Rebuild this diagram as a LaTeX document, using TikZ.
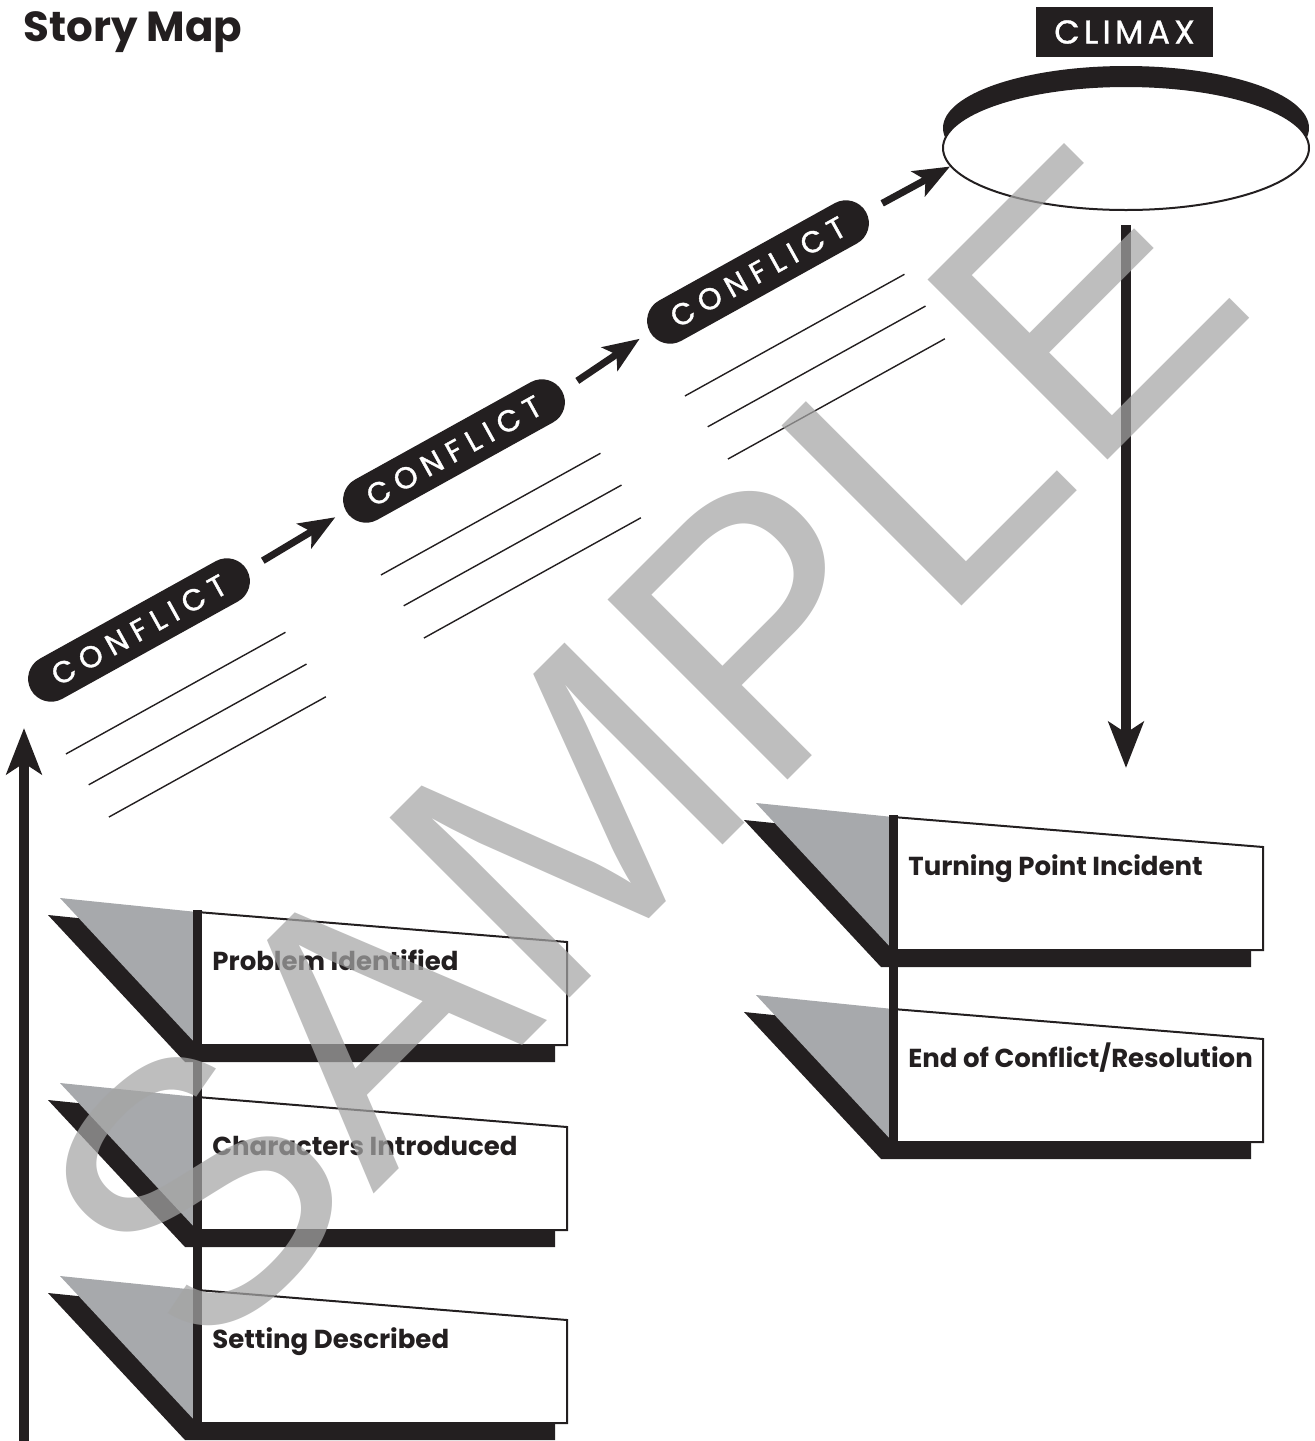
\documentclass[tikz,border=0pt]{standalone}
\usepackage{fontspec}
\setmainfont{Poppins}
\newfontfamily\markfont{Liberation Sans}
\newfontfamily\spacedfont[LetterSpace=25, FakeBold=1.2]{Poppins}
\newfontfamily\climaxfont[LetterSpace=13, FakeBold=1]{Poppins}
\usetikzlibrary{arrows.meta, shapes.geometric, shadows, calc}
\definecolor{inkblack}{RGB}{35,31,32}
\definecolor{panelgray}{RGB}{167,169,172}
\definecolor{markgray}{RGB}{165,165,165}

\tikzset{
  conflictpill/.style={fill=inkblack, text=white, rounded corners=11.5pt,
    minimum width=123.5pt, minimum height=23pt, inner sep=0pt, rotate=29,
    font=\spacedfont\fontsize{15}{15}\selectfont},
  riseline/.style={draw=inkblack, line width=3.5pt,
    -{Stealth[length=18pt, width=14pt, inset=4pt]}, shorten <=9pt, shorten >=6pt},
  bigarrow/.style={draw=inkblack, line width=5pt,
    -{Stealth[length=23pt, width=17.5pt, inset=5.5pt]}},
  writeline/.style={draw=inkblack, line width=0.7pt},
  boxbar/.style={draw=inkblack, line width=4.5pt},
  boxlabel/.style={anchor=base west, inner sep=0pt, text=inkblack,
    font=\bfseries\fontsize{13}{13}\selectfont},
}

\begin{document}
\begin{tikzpicture}[x=0.5pt, y=-0.5pt]
  \useasboundingbox (0,0) rectangle (1315,1441);

  % ── Title ───────────────────────────────────────────────
  \node[anchor=base west, inner sep=0pt, text=inkblack,
  font=\bfseries\fontsize{21}{21}\selectfont] (title) at (23,41) {Story Map};

  % ── Climax ──────────────────────────────────────────────
  \node[fill=inkblack, text=white, minimum width=88.5pt, minimum height=25pt,
  inner sep=0pt, font=\climaxfont\fontsize{16.5}{16.5}\selectfont]
  (climaxtag) at (1124.5,32) {CLIMAX};
  \node[ellipse, draw=inkblack, line width=1pt, fill=white,
  minimum width=183pt, minimum height=62pt,
  drop shadow={shadow xshift=0pt, shadow yshift=10pt, opacity=1, fill=inkblack}]
  (climax) at (1126,148) {};

  % ── Conflict pills + writing lines ──────────────────────
  \foreach \n/\x/\y in {1/139/630, 2/454/451, 3/758/272}{
    \node[conflictpill] (conf\n) at (\x,\y) {CONFLICT};
    \begin{scope}[shift={(conf\n.center)}, rotate=29]
      \foreach \v/\ua/\ub in {73/-124/127, 111/-119/130, 149/-117/131}
        \draw[writeline] (\ua,\v) -- (\ub,\v);
    \end{scope}
  }

  % ── Rising arrows ───────────────────────────────────────
  \draw[riseline] (conf1.east) -- (conf2.west);
  \draw[riseline] (conf2.east) -- (conf3.west);
  \draw[riseline, shorten >=0pt] (conf3.east) -- (climax.186);

  % ── Vertical arrows ─────────────────────────────────────
  \coordinate (risebase) at (24,1441);
  \coordinate (risetop) at (24,728);
  \draw[bigarrow] (risebase) -- (risetop);
  \coordinate (falltip) at (1126,768);
  \draw[bigarrow, shorten <=7pt] (climax.south) -- (falltip);

  % ── Story boxes (shadow, grey flap, white panel, label) ─
  \foreach \bx/\by/\lbl/\nm in {197/912/Problem Identified/problem,
    197/1097/Characters Introduced/characters,
    197/1290/Setting Described/setting,
    893/817/Turning Point Incident/turning,
    893/1009/{End of Conflict/Resolution}/resolution}{
    \fill[inkblack] (\bx-149,\by+3) -- (\bx-12,\by+17) -- (\bx+358,\by+47)
      -- (\bx+358,\by+150) -- (\bx-12,\by+150) -- cycle;
    \fill[panelgray] (\bx-137,\by-14) -- (\bx,\by) -- (\bx,\by+133) -- cycle;
    \draw[inkblack, line width=1pt, fill=white] (\bx,\by) -- (\bx+370,\by+30)
      -- (\bx+370,\by+133) -- (\bx,\by+133) -- cycle;
    \node[boxlabel] (\nm) at (\bx+15,\by+58) {\lbl};
  }

  % ── Spines ──────────────────────────────────────────────
  \draw[boxbar] (197,910) -- (197,1425);
  \draw[boxbar] (893,815) -- (893,1143);

  % ── Watermark ───────────────────────────────────────────
  \node[rotate=45, text=markgray, text opacity=0.72, inner sep=0pt,
  font=\markfont\fontsize{185}{185}\selectfont] (sample) at (640,748) {SAMPLE};
\end{tikzpicture}
\end{document}
